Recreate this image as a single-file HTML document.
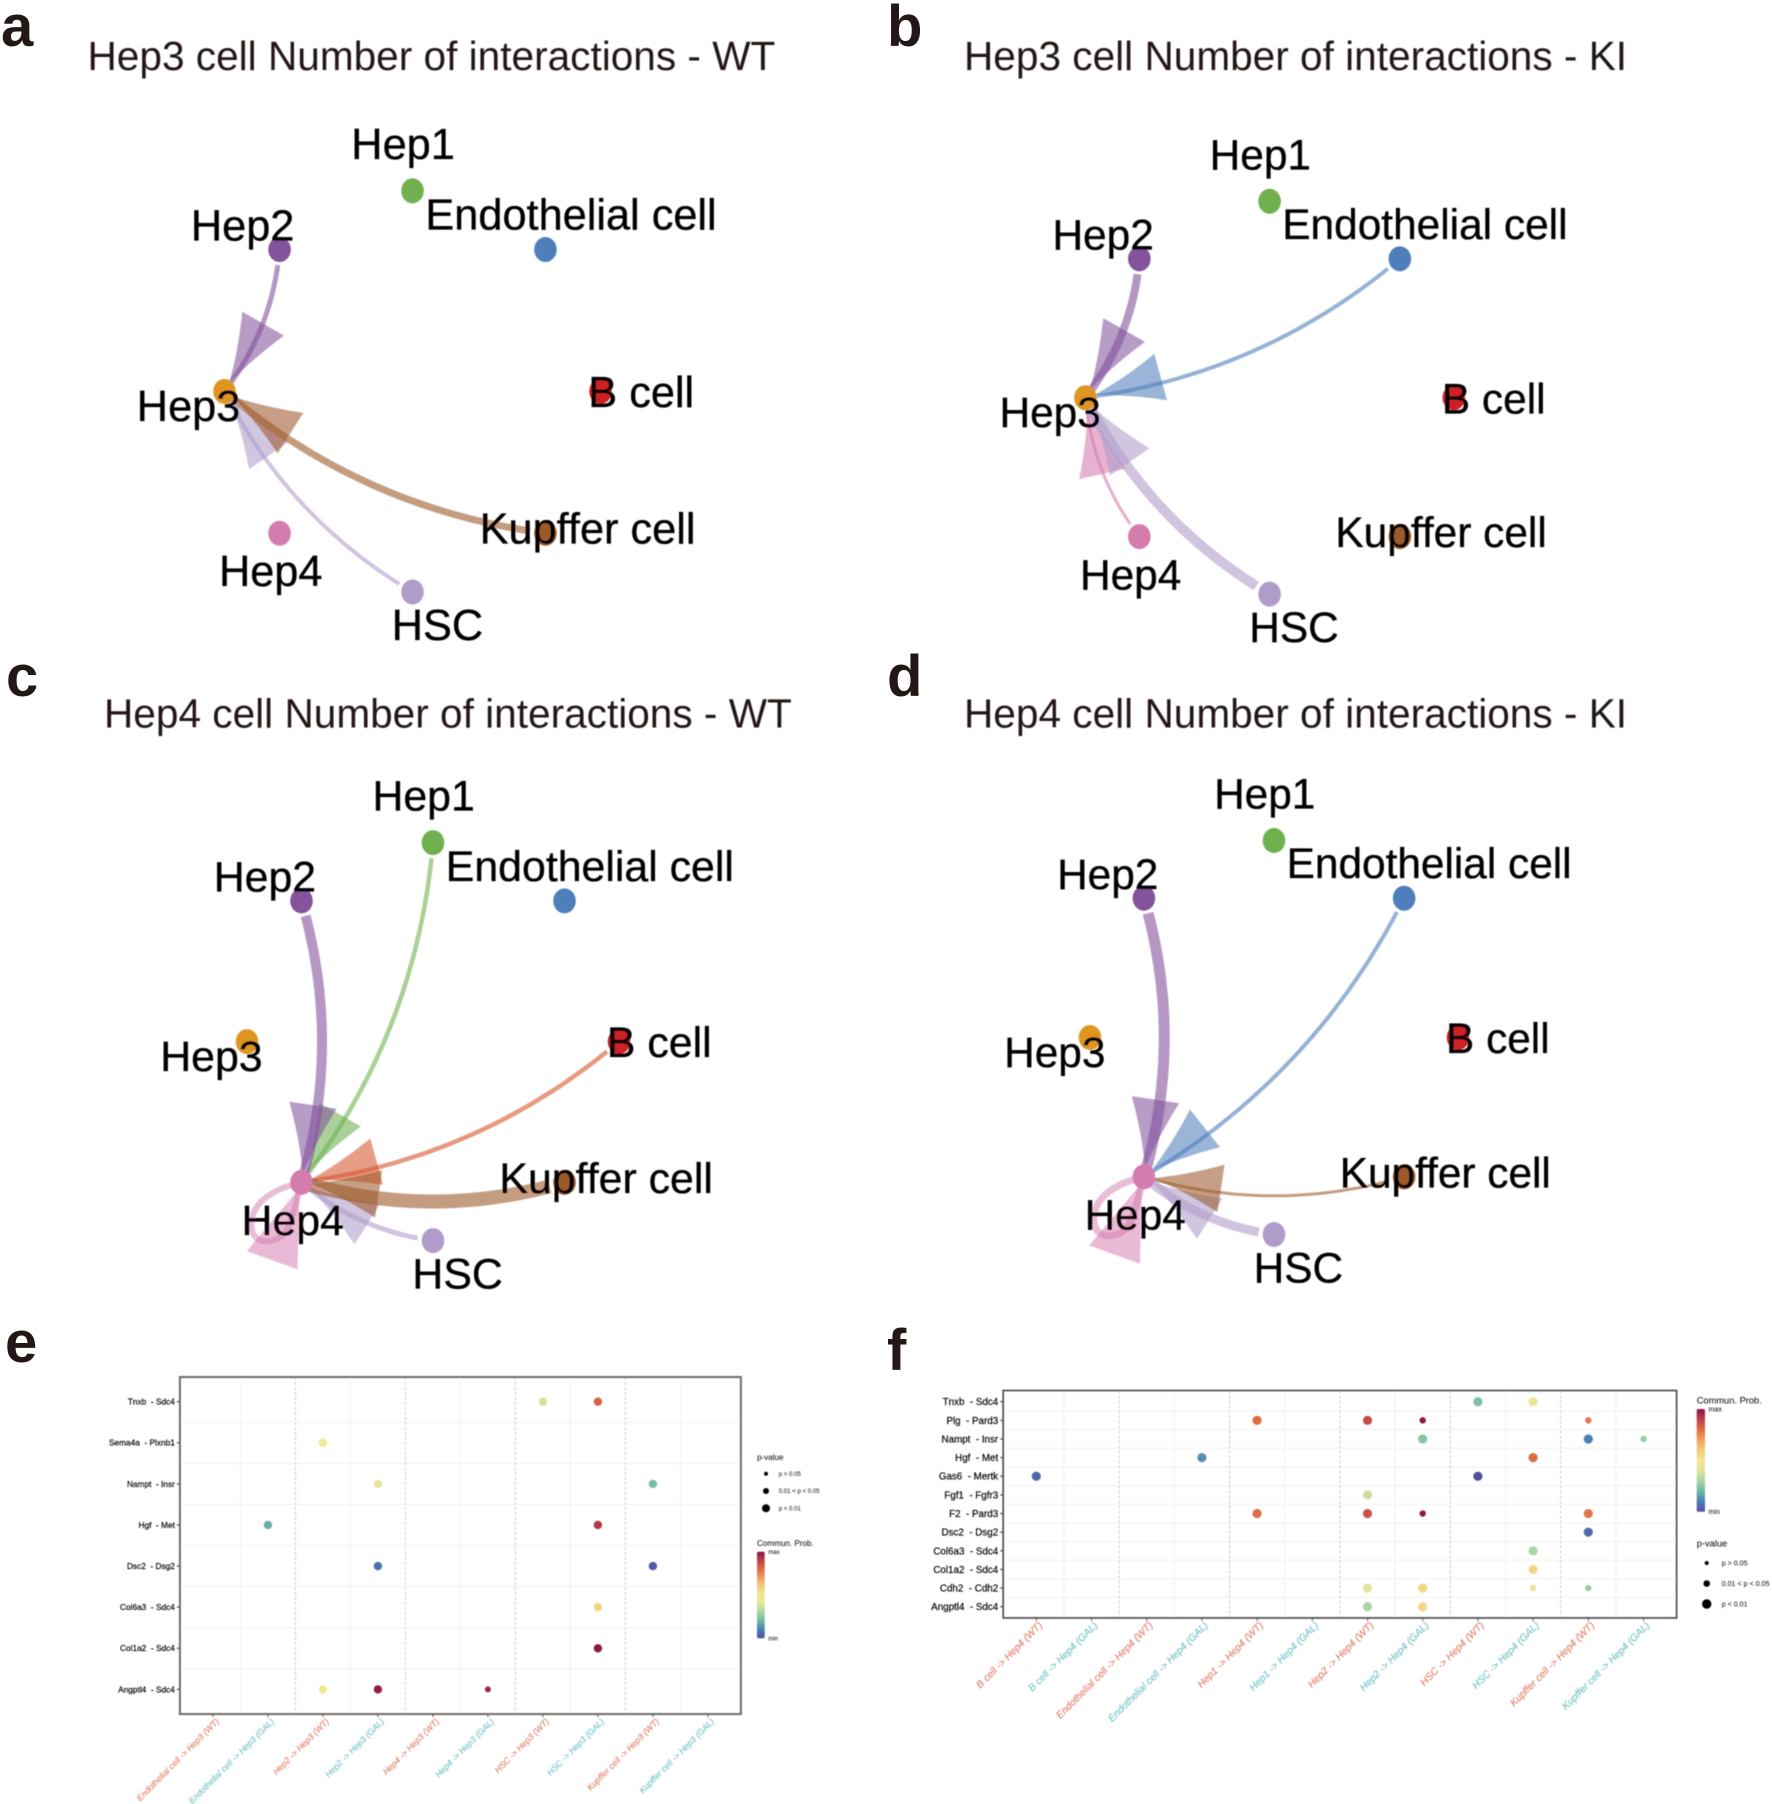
<!DOCTYPE html>
<html lang="en">
<head>
<meta charset="utf-8">
<title>Hep3 and Hep4 cell interaction figure</title>
<style>
html,body{margin:0;padding:0;background:#fff;width:1772px;height:1804px;overflow:hidden}
svg{display:block}
text{font-family:"Liberation Sans",Arial,sans-serif;white-space:pre}
</style>
</head>
<body>
<svg id="figure" xmlns="http://www.w3.org/2000/svg" width="1772" height="1804" viewBox="0 0 1772 1804">
  <defs>
    <filter id="soft" x="-5%" y="-5%" width="110%" height="110%"><feGaussianBlur stdDeviation="0.4"/></filter>
  </defs>
  <rect width="1772" height="1804" fill="#fff"/>
  <g id="letters" font-weight="700" font-size="58" fill="#231815">
    <text x="1" y="46">a</text>
    <text x="887" y="46">b</text>
    <text x="6" y="696">c</text>
    <text x="887" y="696">d</text>
    <text x="5" y="1362">e</text>
    <text x="887" y="1370">f</text>
  </g>
  <g id="networks" filter="url(#soft)"></g>
  <g id="dotplots" filter="url(#soft)"></g>
</svg>
<script>
/* ---------- network data ---------- */
const nodeNames = ["B cell","Endothelial cell","Hep1","Hep2","Hep3","Hep4","HSC","Kupffer cell"];
const nodeColors = ["#cc2127","#4f7fbb","#6fb050","#83529c","#e09520","#d47bae","#b09cc9","#9c5a2c"];
const edgeColors = ["#d6552e","#4f7fbb","#6fb050","#83529c","#e09520","#d47bae","#b09cc9","#9c5a2c"];
/* Interaction strength from each source (same order as nodeNames) to the panel's target */
const interactionsA = [0,0,0,5,0,0,4,7];
const interactionsB = [0,4,0,8,0,3,10,0];
const interactionsC = [4.5,0,4.5,10,0,6,5,14];
const interactionsD = [0,4,0,11,0,7,9,3];

/* ---------- dot plot e data ---------- */
const xCategoriesE = ["Endothelial cell -> Hep3 (WT)","Endothelial cell -> Hep3 (GAL)","Hep2 -> Hep3 (WT)","Hep2 -> Hep3 (GAL)","Hep4 -> Hep3 (WT)","Hep4 -> Hep3 (GAL)","HSC -> Hep3 (WT)","HSC -> Hep3 (GAL)","Kupffer cell -> Hep3 (WT)","Kupffer cell -> Hep3 (GAL)"];
const yCategoriesE = ["Tnxb  - Sdc4","Sema4a  - Plxnb1","Nampt  - Insr","Hgf  - Met","Dsc2  - Dsg2","Col6a3  - Sdc4","Col1a2  - Sdc4","Angptl4  - Sdc4"];
const dotRowE  = [0,0,1,2,2,3,3,4,4,5,6,7,7,7];
const dotColE  = [6,7,2,3,8,1,7,3,8,7,7,2,3,5];
const dotProbE = [.37,.82,.5,.43,.22,.18,.92,.07,.02,.57,1,.5,.98,.96];
const dotSigE  = [3,3,3,3,3,3,3,3,3,3,3,3,3,2];

/* ---------- dot plot f data ---------- */
const xCategoriesF = ["B cell -> Hep4 (WT)","B cell -> Hep4 (GAL)","Endothelial cell -> Hep4 (WT)","Endothelial cell -> Hep4 (GAL)","Hep1 -> Hep4 (WT)","Hep1 -> Hep4 (GAL)","Hep2 -> Hep4 (WT)","Hep2 -> Hep4 (GAL)","HSC -> Hep4 (WT)","HSC -> Hep4 (GAL)","Kupffer cell -> Hep4 (WT)","Kupffer cell -> Hep4 (GAL)"];
const yCategoriesF = ["Tnxb  - Sdc4","Plg  - Pard3","Nampt  - Insr","Hgf  - Met","Gas6  - Mertk","Fgf1  - Fgfr3","F2  - Pard3","Dsc2  - Dsg2","Col6a3  - Sdc4","Col1a2  - Sdc4","Cdh2  - Cdh2","Angptl4  - Sdc4"];
const dotRowF  = [0,0,1,1,1,1,2,2,2,3,3,4,4,5,6,6,6,6,7,8,9,10,10,10,10,11,11];
const dotColF  = [8,9,4,6,7,10,7,10,11,3,9,0,8,6,4,6,7,10,10,9,9,6,7,9,10,6,7];
const dotProbF = [.22,.45,.8,.87,1,.78,.24,.1,.27,.13,.8,.05,0,.36,.8,.86,1,.78,.06,.3,.57,.4,.56,.45,.27,.3,.56];
const dotSigF  = [3,3,3,3,2,2,3,3,2,3,3,3,3,3,3,3,2,3,3,3,3,3,3,2,2,3,3];

/* ---------- legend text ---------- */
const pValueLabels = ["p > 0.05","0.01 < p < 0.05","p < 0.01"];
const colorStops = ["#554ea1","#4a7fb5","#6fb9a3","#a8d5a3","#dfe69a","#f3e693","#f2cd7c","#eda05d","#dd6c43","#c13d4a","#8b1345"];

const NS = "http://www.w3.org/2000/svg";
function mk(tag, attrs, parent, txt){
  const n = document.createElementNS(NS, tag);
  for (const k in attrs) n.setAttribute(k, attrs[k]);
  if (txt !== undefined) n.textContent = txt;
  parent.appendChild(n);
  return n;
}
function slug(s){ return s.toLowerCase().replace(/[^a-z0-9]+/g,'-').replace(/^-|-$/g,''); }

/* Colour scale: probability 0..1 -> Spectral-like ramp */
function hexRgb(h){ return [1,3,5].map(i=>parseInt(h.substr(i,2),16)); }
function colorScale(v){
  const t = Math.max(0,Math.min(1,v))*(colorStops.length-1);
  const i = Math.min(Math.floor(t),colorStops.length-2), f = t-i;
  const a = hexRgb(colorStops[i]), b = hexRgb(colorStops[i+1]);
  return 'rgb('+a.map((c,k)=>Math.round(c+(b[k]-c)*f)).join(',')+')';
}

/* ---------- network panels ---------- */
const labelOffset = {
  "B cell":[-12.2,15.6],"Endothelial cell":[-120,-20],"Hep1":[-61.2,-32],"Hep2":[-88.7,-9.3],
  "Hep3":[-87.7,29.5],"Hep4":[-60.6,52.7],"HSC":[-20.8,48],"Kupffer cell":[-65.8,10.5]
};
function nodePos(p,i){
  const a = -i*Math.PI/4;
  return [p.cx + p.rx*Math.cos(a), p.cy + p.ry*Math.sin(a)];
}
function fmt(a){ return a[0].toFixed(1)+' '+a[1].toFixed(1); }
function drawNetwork(p, counts){
  const g = mk('g',{},document.getElementById('networks'));
  
  
  const title = mk('text',{x:p.tx,y:p.ty,'font-size':40.6,fill:'#231815'},g,p.title);
  
  
  const tgtIdx = nodeNames.indexOf(p.target);
  const T = nodePos(p,tgtIdx);
  const labelScale = p.rx/188;
  counts.forEach((w,i)=>{
    if(!w) return;
    const col = edgeColors[i];
    const eg = mk('g',{},g);
    
    
    if(i===tgtIdx){
      const lp = mk('path',{d:`M${T[0]} ${T[1]}c-14 3 -50 14 -50 42c0 20 18 20 30 12c8 -6 14 -30 20 -54`,fill:'none',stroke:col,'stroke-width':w,'stroke-opacity':.5},eg);
      
      
      const tr = mk('polygon',{points:`${T[0]-2} ${T[1]+6} ${T[0]-54.8} ${T[1]+68.7} ${T[0]-4} ${T[1]+87}`,fill:col,'fill-opacity':.52},eg);
      
      
      return;
    }
    const S = nodePos(p,i);
    const dx = T[0]-S[0], dy = T[1]-S[1], L = Math.hypot(dx,dy);
    const nx = dy/L, ny = -dx/L;
    const C = [(S[0]+T[0])/2 + nx*L*.146, (S[1]+T[1])/2 + ny*L*.146];
    const t0 = 15/L;
    const q = t => [(1-t)*(1-t)*S[0]+2*t*(1-t)*C[0]+t*t*T[0], (1-t)*(1-t)*S[1]+2*t*(1-t)*C[1]+t*t*T[1]];
    let d = '';
    for(let k=0;k<=40;k++){ const pt=q(t0+(1-t0)*k/40); d+=(k?'L':'M')+fmt(pt); }
    const line = mk('path',{d:d,fill:'none',stroke:col,'stroke-width':w,'stroke-opacity':.6},eg);
    
    
    /* arrowhead axis = reversed chord rotated slightly towards the bulge */
    const rot = 8.5*Math.PI/180;
    const ax = -dx/L, ay = -dy/L;
    const r1 = [ax*Math.cos(rot)-ay*Math.sin(rot), ax*Math.sin(rot)+ay*Math.cos(rot)];
    const r2 = [ax*Math.cos(rot)+ay*Math.sin(rot), -ax*Math.sin(rot)+ay*Math.cos(rot)];
    const dot1 = r1[0]*nx+r1[1]*ny, dot2 = r2[0]*nx+r2[1]*ny;
    const u = dot1>dot2 ? r1 : r2;
    const v = [-u[1],u[0]];
    const along = (a,b)=>[T[0]+u[0]*a+v[0]*b, T[1]+u[1]*a+v[1]*b];
    const head = mk('path',{d:`M${fmt(along(9,0))}Q${fmt(along(42,8))} ${fmt(along(78,24))}L${fmt(along(78,-24))}Q${fmt(along(42,-8))} ${fmt(along(9,0))}Z`,fill:col,'fill-opacity':.58},eg);
    
    
  });
  nodeNames.forEach((name,i)=>{
    const P = nodePos(p,i);
    const c = mk('ellipse',{cx:P[0],cy:P[1],rx:11.3,ry:12.5,fill:nodeColors[i]},g);
    
    
  });
  nodeNames.forEach((name,i)=>{
    const P = nodePos(p,i), o = labelOffset[name];
    const t = mk('text',{x:P[0]+o[0]*labelScale,y:P[1]+o[1],'font-size':43.3*labelScale,fill:'#000',stroke:'#000','stroke-width':.35},g,name);
    
    
  });
}
drawNetwork({id:'a',title:'Hep3 cell Number of interactions - WT',tx:87.5,ty:70,target:'Hep3',cx:412.5,cy:391.4,rx:188,ry:200.6},interactionsA);
drawNetwork({id:'b',title:'Hep3 cell Number of interactions - KI',tx:964,ty:70,target:'Hep3',cx:1269.6,cy:397.7,rx:184.2,ry:196.4},interactionsB);
drawNetwork({id:'c',title:'Hep4 cell Number of interactions - WT',tx:104,ty:727.5,target:'Hep4',cx:433,cy:1041.6,rx:186,ry:199},interactionsC);
drawNetwork({id:'d',title:'Hep4 cell Number of interactions - KI',tx:964,ty:727.5,target:'Hep4',cx:1274,cy:1037.5,rx:184,ry:197},interactionsD);

/* ---------- dot plots ---------- */
function drawDotPlot(o){
  const g = mk('g',{},document.getElementById('dotplots'));
  
  
  const xScale = i => o.x0 + i*o.dx;
  const yScale = i => o.y0 + i*o.dy;
  const left = xScale(-.6), right = xScale(o.xCats.length-1+.6);
  const top = yScale(-.6), bottom = yScale(o.yCats.length-1+.6);
  for(let i=0;i<o.yCats.length-1;i++){
    const l = mk('line',{x1:left,x2:right,y1:yScale(i+.5),y2:yScale(i+.5),stroke:'#f1f1f1','stroke-width':1},g);
    
    
  }
  for(let i=0;i<o.xCats.length-1;i++){
    const dashed = i%2===1;
    const l = mk('line',{x1:xScale(i+.5),x2:xScale(i+.5),y1:top,y2:bottom,stroke:dashed?'#c9c9c9':'#f1f1f1','stroke-width':1,'stroke-dasharray':dashed?'3 2':'none'},g);
    
    
  }
  const fr = mk('rect',{x:left,y:top,width:right-left,height:bottom-top,fill:'none',stroke:o.frame,'stroke-width':o.fw},g);
  
  
  o.yCats.forEach((c,i)=>{
    const tk = mk('line',{x1:left-3,x2:left,y1:yScale(i),y2:yScale(i),stroke:'#333','stroke-width':1},g);
    
    
    const t = mk('text',{x:left-5,y:yScale(i)+o.yFont*.35,'text-anchor':'end','font-size':o.yFont,fill:'#000',stroke:'#000','stroke-width':.18},g,c);
    
    
  });
  o.xCats.forEach((c,i)=>{
    const tk = mk('line',{x1:xScale(i),x2:xScale(i),y1:bottom,y2:bottom+3,stroke:'#555','stroke-width':1},g);
    
    
    const tx = xScale(i)+6.8, ty = bottom+8;
    const col = i%2?'#74c2c5':'#e07f6a';
    const t = mk('text',{x:tx,y:ty,transform:`rotate(-45 ${tx} ${ty})`,'text-anchor':'end','font-size':o.xFont,'font-style':'italic',fill:col,stroke:col,'stroke-width':.12},g,c);
    
    
  });
  o.rows.forEach((r,k)=>{
    const c = mk('circle',{cx:xScale(o.cols[k]),cy:yScale(r),r:o.radii[o.sig[k]-1],fill:colorScale(o.prob[k])},g);
    
    
  });
  /* p-value legend */
  const L = o.legend;
  const pt = mk('text',{x:L.x,y:L.pY,'font-size':L.titleFont,fill:'#000'},g,'p-value');
  
  
  pValueLabels.forEach((s,i)=>{
    const y = L.pFirst + i*L.pStep;
    const c = mk('circle',{cx:L.pDotX,cy:y,r:L.pRadii[i],fill:'#000'},g);
    
    
    const t = mk('text',{x:L.pTextX,y:y+L.pFont*.35,'font-size':L.pFont,fill:'#000'},g,s);
    
    
  });
  /* colour bar */
  const ct = mk('text',{x:L.x,y:L.cY,'font-size':L.titleFont,fill:'#000'},g,'Commun. Prob.');
  
  
  const gid = 'grad'+o.id;
  const lg = mk('linearGradient',{id:gid,x1:0,y1:1,x2:0,y2:0},document.querySelector('defs'));
  colorStops.forEach((s,i)=>mk('stop',{offset:i/(colorStops.length-1),'stop-color':s},lg));
  const bar = mk('rect',{x:L.x,y:L.barTop,width:L.barW,height:L.barBottom-L.barTop,rx:1.5,fill:'url(#'+gid+')'},g);
  
  
  const mx = mk('text',{x:L.x+L.barW+3.5,y:L.barTop+L.pFont*.35,'font-size':L.pFont,fill:'#000'},g,'max');
  
  
  const mn = mk('text',{x:L.x+L.barW+3.5,y:L.barBottom+L.pFont*.35,'font-size':L.pFont,fill:'#000'},g,'min');
  
  
}
drawDotPlot({id:'e',xCats:xCategoriesE,yCats:yCategoriesE,rows:dotRowE,cols:dotColE,prob:dotProbE,sig:dotSigE,
  x0:212.9,dx:55,y0:1401.7,dy:41.1,frame:'#6e6a66',fw:2,yFont:8.3,xFont:8.6,radii:[2,3,4.2],
  legend:{x:757,pY:1460,cY:1546,titleFont:8.1,pFirst:1473.7,pStep:17.3,pDotX:766,pTextX:778.7,pFont:6.1,pRadii:[2,3,4],barTop:1551.7,barBottom:1638.3,barW:7.7}});
drawDotPlot({id:'f',xCats:xCategoriesF,yCats:yCategoriesF,rows:dotRowF,cols:dotColF,prob:dotProbF,sig:dotSigF,
  x0:1036.3,dx:55.2,y0:1401.7,dy:18.64,frame:'#444',fw:1.6,yFont:9.8,xFont:10.1,radii:[2,3.2,4.6],
  legend:{x:1696.7,pY:1546.5,cY:1403.5,titleFont:9.3,pFirst:1563,pStep:20.5,pDotX:1706.7,pTextX:1721.7,pFont:7.1,pRadii:[2,3.3,4.7],barTop:1409,barBottom:1511.7,barW:8.3}});
</script>
</body>
</html>
